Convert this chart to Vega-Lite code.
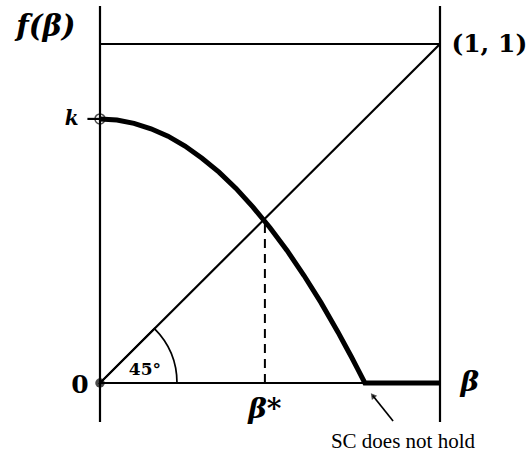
{
  "$schema": "https://vega.github.io/schema/vega-lite/v6.json",
  "width": 530,
  "height": 453,
  "padding": 0,
  "autosize": {"type": "none"},
  "background": "white",
  "config": {"view": {"stroke": null}},
  "datasets": {
    "frame": [
      {"x": 0, "y": -0.115, "x2": 0, "y2": 1.112},
      {"x": 1, "y": -0.115, "x2": 1, "y2": 1.112},
      {"x": 0, "y": 1, "x2": 1, "y2": 1},
      {"x": 0, "y": 0, "x2": 1, "y2": 0},
      {"x": 0, "y": 0, "x2": 1, "y2": 1},
      {"x": -0.037, "y": 0.779, "x2": 0, "y2": 0.779}
    ],
    "dashed": [
      {"x": 0.485, "y": 0, "x2": 0.485, "y2": 0.485}
    ],
    "curve": [
      {"beta": 0.0, "f": 0.779},
      {"beta": 0.05, "f": 0.776},
      {"beta": 0.1, "f": 0.766},
      {"beta": 0.15, "f": 0.750},
      {"beta": 0.2, "f": 0.728},
      {"beta": 0.25, "f": 0.699},
      {"beta": 0.3, "f": 0.663},
      {"beta": 0.35, "f": 0.622},
      {"beta": 0.4, "f": 0.574},
      {"beta": 0.45, "f": 0.519},
      {"beta": 0.5, "f": 0.458},
      {"beta": 0.55, "f": 0.391},
      {"beta": 0.6, "f": 0.317},
      {"beta": 0.65, "f": 0.237},
      {"beta": 0.7, "f": 0.150},
      {"beta": 0.72, "f": 0.113},
      {"beta": 0.74, "f": 0.076},
      {"beta": 0.76, "f": 0.0375},
      {"beta": 0.779, "f": 0.0},
      {"beta": 1.0, "f": 0.0}
    ],
    "origin": [{"x": 0, "y": 0}],
    "kpoint": [{"x": 0, "y": 0.779}],
    "arrow": [
      {"x": 0.862, "y": -0.112, "x2": 0.802, "y2": -0.037}
    ],
    "arrowhead": [{"x": 0.802, "y": -0.037}]
  },
  "layer": [
    {
      "data": {"name": "frame"},
      "mark": {"type": "rule", "color": "black", "strokeWidth": 2.2},
      "encoding": {
        "x": {"field": "x", "type": "quantitative", "scale": {"domain": [-0.2941, 1.2647], "nice": false, "zero": false}, "axis": null},
        "y": {"field": "y", "type": "quantitative", "scale": {"domain": [-0.2065, 1.1298], "nice": false, "zero": false}, "axis": null},
        "x2": {"field": "x2"},
        "y2": {"field": "y2"}
      }
    },
    {
      "data": {"name": "dashed"},
      "mark": {"type": "rule", "color": "black", "strokeWidth": 2, "strokeDash": [9, 6]},
      "encoding": {
        "x": {"field": "x", "type": "quantitative"},
        "y": {"field": "y", "type": "quantitative"},
        "x2": {"field": "x2"},
        "y2": {"field": "y2"}
      }
    },
    {
      "data": {"name": "curve"},
      "mark": {"type": "line", "color": "black", "strokeWidth": 5, "strokeJoin": "miter", "interpolate": "linear"},
      "encoding": {
        "x": {"field": "beta", "type": "quantitative"},
        "y": {"field": "f", "type": "quantitative"},
        "order": {"field": "beta"}
      }
    },
    {
      "data": {"name": "origin"},
      "mark": {"type": "arc", "theta": 0.7854, "theta2": 1.5708, "radius": 77, "filled": false, "fill": null, "stroke": "black", "strokeWidth": 1.7},
      "encoding": {
        "x": {"field": "x", "type": "quantitative"},
        "y": {"field": "y", "type": "quantitative"}
      }
    },
    {
      "data": {"name": "origin"},
      "mark": {"type": "point", "shape": "circle", "filled": true, "color": "black", "size": 90},
      "encoding": {
        "x": {"field": "x", "type": "quantitative"},
        "y": {"field": "y", "type": "quantitative"}
      }
    },
    {
      "data": {"name": "kpoint"},
      "mark": {"type": "point", "shape": "circle", "filled": false, "color": "black", "strokeWidth": 1.5, "size": 100},
      "encoding": {
        "x": {"field": "x", "type": "quantitative"},
        "y": {"field": "y", "type": "quantitative"}
      }
    },
    {
      "data": {"name": "arrow"},
      "mark": {"type": "rule", "color": "black", "strokeWidth": 1.7},
      "encoding": {
        "x": {"field": "x", "type": "quantitative"},
        "y": {"field": "y", "type": "quantitative"},
        "x2": {"field": "x2"},
        "y2": {"field": "y2"}
      }
    },
    {
      "data": {"name": "arrowhead"},
      "mark": {"type": "point", "shape": "triangle-up", "filled": true, "color": "black", "size": 45, "angle": 321},
      "encoding": {
        "x": {"field": "x", "type": "quantitative"},
        "y": {"field": "y", "type": "quantitative"}
      }
    },
    {
      "data": {"values": [
        {"x": -0.159, "y": 1.05, "label": "f(β)"}
      ]},
      "mark": {"type": "text", "font": "DejaVu Serif", "fontStyle": "italic", "fontWeight": "bold", "fontSize": 29, "align": "center", "baseline": "middle", "color": "black"},
      "encoding": {
        "x": {"field": "x", "type": "quantitative"},
        "y": {"field": "y", "type": "quantitative"},
        "text": {"field": "label"}
      }
    },
    {
      "data": {"values": [
        {"x": 1.088, "y": 0.0, "label": "β"},
        {"x": 0.485, "y": -0.08, "label": "β*"}
      ]},
      "mark": {"type": "text", "font": "DejaVu Serif", "fontStyle": "italic", "fontWeight": "bold", "fontSize": 28, "align": "center", "baseline": "middle", "color": "black"},
      "encoding": {
        "x": {"field": "x", "type": "quantitative"},
        "y": {"field": "y", "type": "quantitative"},
        "text": {"field": "label"}
      }
    },
    {
      "data": {"values": [
        {"x": -0.083, "y": 0.779, "label": "k"}
      ]},
      "mark": {"type": "text", "font": "DejaVu Serif", "fontStyle": "italic", "fontWeight": "bold", "fontSize": 20, "align": "center", "baseline": "middle", "color": "black"},
      "encoding": {
        "x": {"field": "x", "type": "quantitative"},
        "y": {"field": "y", "type": "quantitative"},
        "text": {"field": "label"}
      }
    },
    {
      "data": {"values": [
        {"x": 1.145, "y": 1.0, "label": "(1, 1)"},
        {"x": -0.059, "y": -0.005, "label": "0"}
      ]},
      "mark": {"type": "text", "font": "DejaVu Serif", "fontWeight": "bold", "fontSize": 25, "align": "center", "baseline": "middle", "color": "black"},
      "encoding": {
        "x": {"field": "x", "type": "quantitative"},
        "y": {"field": "y", "type": "quantitative"},
        "text": {"field": "label"}
      }
    },
    {
      "data": {"values": [
        {"x": 0.132, "y": 0.038, "label": "45°"}
      ]},
      "mark": {"type": "text", "font": "DejaVu Serif", "fontWeight": "bold", "fontSize": 17, "align": "center", "baseline": "middle", "color": "black"},
      "encoding": {
        "x": {"field": "x", "type": "quantitative"},
        "y": {"field": "y", "type": "quantitative"},
        "text": {"field": "label"}
      }
    },
    {
      "data": {"values": [
        {"x": 0.891, "y": -0.174, "label": "SC does not hold"}
      ]},
      "mark": {"type": "text", "font": "Liberation Serif", "fontSize": 21, "align": "center", "baseline": "middle", "color": "black"},
      "encoding": {
        "x": {"field": "x", "type": "quantitative"},
        "y": {"field": "y", "type": "quantitative"},
        "text": {"field": "label"}
      }
    }
  ]
}
